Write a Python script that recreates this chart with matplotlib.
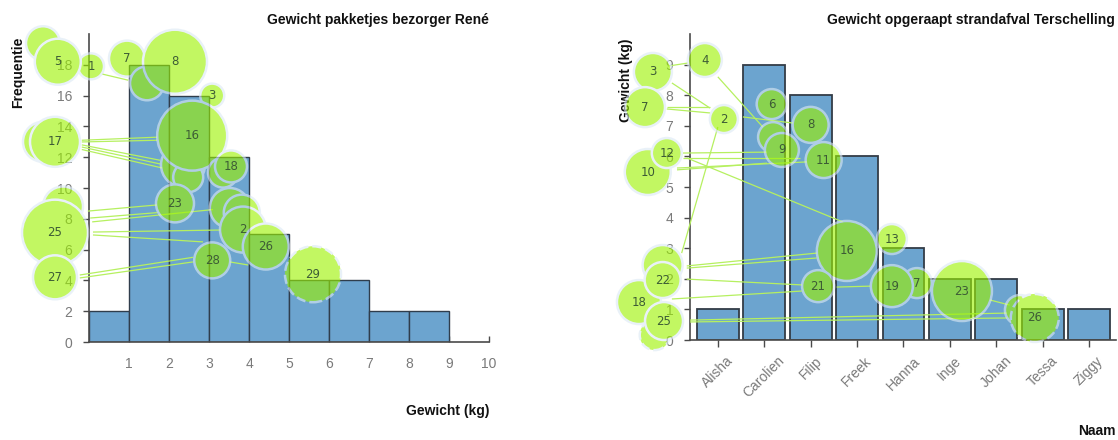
import matplotlib
matplotlib.use("Agg")
import matplotlib.pyplot as plt
import matplotlib.transforms as mtransforms

# ---------------- data ----------------
# Left: histogram of parcel weights (bins of 1 kg)
bin_left = [0, 1, 2, 3, 4, 5, 6, 7, 8]
bin_count = [2, 18, 16, 12, 7, 4, 4, 2, 2]
rene_xticks = [1, 2, 3, 4, 5, 6, 7, 8, 9, 10]
rene_yticks = [0, 2, 4, 6, 8, 10, 12, 14, 16, 18]

# Right: collected beach litter per person
names = ["Alisha", "Carolien", "Filip", "Freek", "Hanna", "Inge", "Johan", "Tessa", "Ziggy"]
weights = [1, 9, 8, 6, 3, 2, 2, 1, 1]
beach_yticks = [0, 1, 2, 3, 4, 5, 6, 7, 8, 9]

# Numbered markers on the histogram (x, y in data units, radius in px)
rene_bx = [-1.15, 0.05, -0.78, 0.95, 1.45, 2.15, 3.08, 2.35, 2.48, 2.58, 3.35, 3.55,
           2.15, 3.52, 3.82, 3.85, 4.42, 3.08, 5.60, -1.15, -0.85, -0.65, -0.85, -0.85]
rene_by = [19.4, 17.9, 18.2, 18.4, 16.8, 18.2, 16.0, 11.5, 10.7, 13.4, 11.0, 11.4,
           9.0, 8.7, 8.4, 7.3, 6.2, 5.3, 4.4, 13.0, 13.0, 8.8, 7.1, 4.2]
rene_br = [17, 13, 23, 18, 17, 32, 12, 22, 15, 35, 15, 16,
           19, 20, 18, 23, 23, 18, 28, 20, 25, 20, 33, 22]
rene_blabel = ["", "1", "5", "7", "", "8", "3", "", "", "16", "", "18",
               "23", "", "", "2", "26", "28", "29", "", "17", "", "25", "27"]
rene_bdashed = [False] * 18 + [True] + [False] * 5

# Connector lines between markers (x0, y0, x1, y1)
rene_links = [
    (0.33, 17.4, 0.98, 17.0),
    (-0.18, 13.1, 1.70, 13.3),
    (-0.18, 12.99, 1.70, 13.1),
    (-0.18, 12.8, 1.78, 11.8),
    (-0.18, 12.66, 1.78, 11.56),
    (-0.18, 12.5, 1.83, 11.3),
    (-0.03, 8.5, 1.70, 8.9),
    (0.03, 8.05, 1.70, 8.4),
    (0.08, 7.8, 3.10, 8.6),
    (0.10, 7.14, 3.27, 7.27),
    (0.10, 6.95, 2.85, 6.5),
    (-0.23, 4.35, 2.60, 5.5),
    (-0.23, 4.16, 2.60, 5.2),
    (3.52, 5.2, 3.98, 5.0),
]

# Numbered markers on the beach litter chart
beach_bx = [-1.40, -0.28, -1.57, 0.13, 1.16, 1.19, 1.38, 2.00, 2.28, -1.51, -1.10, -1.19,
            -1.70, -1.19, -1.36, -1.16, 2.78, 2.16, 3.75, 4.29, 3.75, 5.26, 6.51, 6.83]
beach_by = [8.76, 9.15, 7.61, 7.22, 7.71, 6.63, 6.21, 7.03, 5.88, 5.49, 6.11, 2.45,
            1.24, 1.96, 0.16, 0.62, 2.91, 1.76, 3.30, 1.86, 1.76, 1.60, 0.98, 0.72]
beach_br = [19, 17, 20, 14, 15, 15, 17, 18, 18, 23, 15, 20,
            22, 18, 15, 19, 30, 16, 15, 15, 21, 30, 15, 24]
beach_blabel = ["3", "4", "7", "2", "6", "", "9", "8", "11", "10", "12", "",
                "18", "22", "", "25", "16", "21", "13", "7", "19", "23", "", "26"]
beach_bdashed = [False] * 14 + [True] + [False] * 8 + [True]

beach_links = [
    (-1.08, 8.95, -0.65, 9.05),
    (-0.99, 8.40, -0.17, 7.58),
    (0.00, 8.60, 0.97, 6.96),
    (-1.10, 7.61, -0.17, 7.61),
    (-1.10, 7.55, -0.17, 7.42),
    (0.54, 7.29, 1.62, 7.09),
    (0.00, 6.96, -0.78, 2.84),
    (-0.75, 6.11, 1.06, 6.14),
    (-0.75, 5.95, 1.77, 5.95),
    (-0.88, 5.56, 1.06, 5.78),
    (-0.88, 5.62, 1.92, 5.82),
    (-0.67, 5.95, 2.69, 3.86),
    (-0.67, 2.42, 2.13, 2.84),
    (-0.67, 2.35, 2.13, 2.68),
    (-0.67, 1.99, 1.81, 1.80),
    (-0.99, 1.34, 1.81, 1.60),
    (-0.60, 0.65, 6.23, 0.88),
    (-0.60, 0.59, 6.23, 0.72),
    (2.56, 1.73, 3.28, 1.76),
    (5.86, 1.31, 6.29, 1.14),
]

# ---------------- styling ----------------
DPI = 100
W, H = 1118, 440
BAR_COLOR = "#6ca4cf"
BAR_EDGE = "#2f3d4c"
TICK_LABEL = "#7a7a7a"
SPINE = "#4a4a4a"
BUBBLE_FACE = "#9cf200"
BUBBLE_EDGE = "#dce9f4"
# the filtered layer's alpha ends up applied twice when composited, hence the root
BUBBLE_OPACITY = 0.62 ** 0.5
LINK_COLOR = "#b6f060"
BUBBLE_TEXT = "#3d5c35"

plt.rcParams["font.family"] = ["Liberation Sans", "DejaVu Sans"]

fig = plt.figure(figsize=(W / DPI, H / DPI), dpi=DPI)
ax1 = fig.add_axes([89 / W, 1 - 342 / H, 400 / W, 308 / H])
ax2 = fig.add_axes([690 / W, 1 - 340 / H, 426 / W, 306 / H])


def style_axes(ax):
    for side in ("top", "right"):
        ax.spines[side].set_visible(False)
    for side in ("left", "bottom"):
        ax.spines[side].set_color(SPINE)
        ax.spines[side].set_linewidth(1.2)
    ax.set_facecolor("none")


def px_to_area(r):
    d = 2 * r * 72.0 / DPI
    return d * d


def layer_opacity(img, dpi):
    # Fade the whole bubble layer at once so overlapping bubbles do not stack up.
    out = img.copy()
    out[..., 3] *= BUBBLE_OPACITY
    return out, 0, 0


def draw_bubbles(ax, xs, ys, rs, labels, dashed):
    ls = ["--" if d else "-" for d in dashed]
    coll = ax.scatter(xs, ys, s=[px_to_area(r) for r in rs],
                      facecolors=BUBBLE_FACE, edgecolors=BUBBLE_EDGE,
                      linewidths=1.8, linestyles=ls, zorder=4, clip_on=False)
    coll.set_agg_filter(layer_opacity)
    for x, y, lab in zip(xs, ys, labels):
        if lab:
            ax.text(x, y, lab, ha="center", va="center", fontsize=8.5,
                    family="DejaVu Sans", color=BUBBLE_TEXT, zorder=5, clip_on=False)


def draw_links(ax, links):
    for x0, y0, x1, y1 in links:
        ax.plot([x0, x1], [y0, y1], color=LINK_COLOR, lw=0.9, zorder=3,
                clip_on=False, solid_capstyle="butt")


# ---------------- left: histogram ----------------
style_axes(ax1)
ax1.bar(bin_left, bin_count, width=1.0, align="edge", color=BAR_COLOR,
        edgecolor=BAR_EDGE, linewidth=1.0, zorder=2)
ax1.set_xlim(0, 10)
ax1.set_ylim(0, 20)
ax1.set_xticks(rene_xticks)
ax1.set_yticks(rene_yticks)
ax1.tick_params(axis="x", direction="in", length=4, width=1, color=SPINE,
                labelcolor=TICK_LABEL, labelsize=10, pad=11)
ax1.tick_params(axis="y", direction="out", length=4, width=1, color=SPINE,
                labelcolor=TICK_LABEL, labelsize=10, pad=8)
draw_links(ax1, rene_links)
draw_bubbles(ax1, rene_bx, rene_by, rene_br, rene_blabel, rene_bdashed)

ax1.text(489 / W, 1 - 20 / H, "Gewicht pakketjes bezorger René", transform=fig.transFigure,
         ha="right", va="center", fontsize=10, fontweight="bold", color="#111111")
ax1.text(489 / W, 1 - 411 / H, "Gewicht (kg)", transform=fig.transFigure,
         ha="right", va="center", fontsize=10, fontweight="bold", color="#111111")
ax1.text(18 / W, 1 - 37 / H, "Frequentie", transform=fig.transFigure, rotation=90,
         ha="center", va="top", fontsize=10, fontweight="bold", color="#111111",
         zorder=1)

# ---------------- right: bar chart ----------------
style_axes(ax2)
xpos = list(range(len(names)))
ax2.bar(xpos, weights, width=0.9, color=BAR_COLOR, edgecolor="#333c46",
        linewidth=1.3, zorder=2)
ax2.set_xlim(-0.6, 8.58)
ax2.set_ylim(0, 10)
ax2.set_yticks(beach_yticks)
ax2.set_xticks(xpos)
ax2.set_xticklabels(names, rotation=45, ha="center")
shift = mtransforms.ScaledTranslation(8 / DPI, 0, fig.dpi_scale_trans)
for lab in ax2.get_xticklabels():
    lab.set_transform(lab.get_transform() + shift)
ax2.tick_params(axis="x", direction="out", length=5, width=1, color=SPINE,
                labelcolor=TICK_LABEL, labelsize=10, pad=5)
ax2.tick_params(axis="y", direction="out", length=4, width=1, color=SPINE,
                labelcolor=TICK_LABEL, labelsize=10, pad=8)
draw_links(ax2, beach_links)
draw_bubbles(ax2, beach_bx, beach_by, beach_br, beach_blabel, beach_bdashed)

ax2.text(1115 / W, 1 - 20 / H, "Gewicht opgeraapt strandafval Terschelling",
         transform=fig.transFigure, ha="right", va="center", fontsize=10,
         fontweight="bold", color="#111111")
ax2.text(1116 / W, 1 - 431 / H, "Naam", transform=fig.transFigure,
         ha="right", va="center", fontsize=10, fontweight="bold", color="#111111")
ax2.text(626 / W, 1 - 38 / H, "Gewicht (kg)", transform=fig.transFigure, rotation=90,
         ha="center", va="top", fontsize=10, fontweight="bold", color="#111111",
         zorder=1)

fig.savefig("out.png", dpi=DPI, facecolor="white")
